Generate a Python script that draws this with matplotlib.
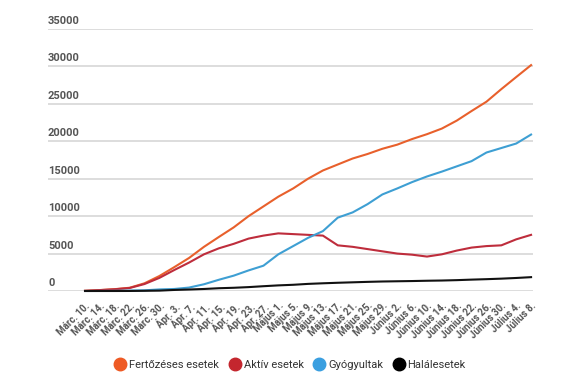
import matplotlib
matplotlib.use("Agg")
import matplotlib.pyplot as plt
from matplotlib.lines import Line2D
import matplotlib.transforms as mtransforms

dates = ["Márc. 10.", "Márc. 14.", "Márc. 18.", "Márc. 22.", "Márc. 26.", "Márc. 30.",
         "Ápr. 3.", "Ápr. 7.", "Ápr. 11.", "Ápr. 15.", "Ápr. 19.", "Ápr. 23.", "Ápr. 27.",
         "Május 1.", "Május 5.", "Május 9.", "Május 13.", "Május 17.", "Május 21.", "Május 25.", "Május 29.",
         "Június 2.", "Június 6.", "Június 10.", "Június 14.", "Június 18.", "Június 22.", "Június 26.", "Június 30.",
         "Július 4.", "Július 8."]

fertozeses = [25, 123, 246, 433, 1029, 2000, 3183, 4417, 5900, 7216, 8500, 10000, 11300,
              12600, 13700, 15000, 16100, 16900, 17700, 18300, 19000, 19550, 20300, 20950,
              21700, 22760, 24045, 25290, 26970, 28580, 30175]
aktiv = [25, 120, 230, 400, 930, 1750, 2800, 3800, 4900, 5700, 6300, 7000, 7400,
         7700, 7600, 7500, 7400, 6100, 5900, 5600, 5300, 5000, 4850, 4600, 4900,
         5400, 5800, 6000, 6100, 6900, 7500]
gyogyult = [0, 5, 20, 60, 90, 210, 270, 460, 900, 1500, 2050, 2750, 3380,
            4900, 6000, 7100, 8000, 9800, 10500, 11600, 12900, 13700, 14550, 15300,
            15950, 16650, 17350, 18500, 19100, 19700, 20900]
halal = [0, 0, 0, 5, 25, 50, 140, 200, 270, 370, 430, 520, 640,
         750, 830, 950, 1030, 1100, 1160, 1220, 1270, 1300, 1330, 1370, 1400,
         1450, 1520, 1580, 1650, 1740, 1850]

series = ["Fertőzéses esetek", "Aktív esetek", "Gyógyultak", "Halálesetek"]
colors = ["#E8602C", "#BE2D3C", "#3E9FD3", "#111111"]
legend_colors = ["#EE5A24", "#C4262E", "#3A9FE0", "#000000"]
yticks = [0, 5000, 10000, 15000, 20000, 25000, 30000, 35000]

plt.rcParams['font.family'] = ['Roboto', 'DejaVu Sans']

fig = plt.figure(figsize=(5.75, 3.87), dpi=100)
ax = fig.add_axes([48/575, 1-291/387, 485/575, (291-29)/387])

x = list(range(len(dates)))
for vals, c in zip([fertozeses, aktiv, gyogyult, halal], colors):
    ax.plot(x, vals, color=c, lw=1.5, clip_on=False, zorder=3, solid_joinstyle='round')

ax.set_xlim(-2.49, len(dates) - 1 + 0.13)
ax.set_ylim(0, 35000)
ax.set_yticks(yticks)
ax.set_yticklabels([])
ax.tick_params(axis='y', length=0)
ax.grid(axis='y', color='#dddddd', lw=1.4, zorder=0)
ax.set_axisbelow(True)
for s in ax.spines.values():
    s.set_visible(False)

trans = mtransforms.blended_transform_factory(ax.transAxes, ax.transData)
offset = mtransforms.ScaledTranslation(0, 3/100, fig.dpi_scale_trans)
for v in yticks:
    ax.text(0, v, str(v), transform=trans + offset, ha='left', va='bottom',
            fontsize=8, fontweight='bold', color='#555555')

ax.set_xticks(x)
ax.set_xticklabels(dates, rotation=45, ha='right', va='top', rotation_mode='anchor',
                   fontsize=7, fontweight='bold', color='#555555')
ax.tick_params(axis='x', length=0, pad=7)

handles = [Line2D([], [], marker='o', linestyle='', markersize=9, color=c) for c in legend_colors]
fig.legend(handles, series, loc='center', bbox_to_anchor=(0.505, 1-365/387), ncol=4,
           frameon=False, fontsize=8, handletextpad=0.3, columnspacing=0.9,
           labelcolor='#333333', handlelength=1.0)

fig.savefig("out.png", dpi=100, facecolor='white')
